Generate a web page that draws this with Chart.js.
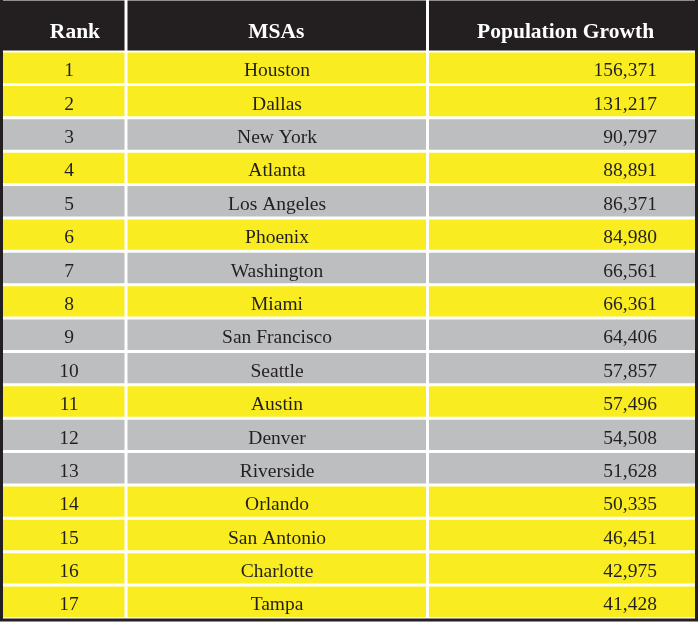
<!DOCTYPE html>
<html>
<head>
<meta charset="utf-8">
<script src="https://cdn.jsdelivr.net/npm/chart.js@4/dist/chart.umd.min.js"></script>
<style>
    html, body { margin: 0; padding: 0; background: #fff; }
    #wrap { width: 698px; height: 622px; }
</style>
</head>
<body>
<div id="wrap"><canvas id="table"></canvas></div>
<script>
// table values
const headers = ['Rank', 'MSAs', 'Population Growth'];
const ranks = [1, 2, 3, 4, 5, 6, 7, 8, 9, 10, 11, 12, 13, 14, 15, 16, 17];
const msas = ['Houston', 'Dallas', 'New York', 'Atlanta', 'Los Angeles', 'Phoenix', 'Washington', 'Miami',
    'San Francisco', 'Seattle', 'Austin', 'Denver', 'Riverside', 'Orlando', 'San Antonio', 'Charlotte', 'Tampa'];
const growth = [156371, 131217, 90797, 88891, 86371, 84980, 66561, 66361, 64406, 57857, 57496, 54508, 51628,
    50335, 46451, 42975, 41428];
// which rows are shaded yellow (y) or grey (g)
const shade = ['y', 'y', 'g', 'y', 'g', 'y', 'g', 'y', 'g', 'g', 'y', 'g', 'g', 'y', 'y', 'y', 'y'];

const DARK = '#231f20';
const palette = { y: '#f9ed21', g: '#bcbec0' };

// column extents on the x scale (0..100)
const columns = [[0, 17.56], [17.99, 61.13], [61.56, 100]];
const headerX = [10.4, 39.5, 81.3];
const bodyX = [9.55, 39.6, 94.5];

const datasets = [];
columns.forEach((col, c) => {
    datasets.push({
        label: 'head-' + c,
        yAxisID: 'yh',
        data: [col],
        backgroundColor: DARK,
        barPercentage: 50 / 51,
        categoryPercentage: 1,
        grouped: false
    });
    datasets.push({
        label: 'body-' + c,
        yAxisID: 'y',
        data: ranks.map(() => col),
        backgroundColor: shade.map(s => palette[s]),
        barPercentage: 0.91,
        categoryPercentage: 1,
        grouped: false
    });
});

const tableText = {
    id: 'tableText',
    afterDatasetsDraw(chart) {
        const { ctx, chartArea, scales } = chart;
        ctx.save();
        // outer frame
        ctx.strokeStyle = DARK;
        ctx.lineWidth = 3;
        ctx.strokeRect(chartArea.left - 1.5, chartArea.top - 1.5,
            chartArea.right - chartArea.left + 3, chartArea.bottom - chartArea.top + 3);

        ctx.textBaseline = 'middle';
        ctx.fillStyle = '#fff';
        ctx.font = 'bold 21.5px "Liberation Serif"';
        ctx.textAlign = 'center';
        const hy = scales.yh.getPixelForValue(0) + 6.5;
        headers.forEach((h, c) => ctx.fillText(h, scales.x.getPixelForValue(headerX[c]), hy));

        ctx.fillStyle = DARK;
        ctx.font = '19.5px "Liberation Serif"';
        ranks.forEach((r, i) => {
            const py = scales.y.getPixelForValue(i) + 3.5;
            ctx.textAlign = 'center';
            ctx.fillText(String(r), scales.x.getPixelForValue(bodyX[0]), py);
            ctx.fillText(msas[i], scales.x.getPixelForValue(bodyX[1]), py);
            ctx.textAlign = 'right';
            ctx.fillText(growth[i].toLocaleString('en-US'), scales.x.getPixelForValue(bodyX[2]), py);
        });
        ctx.restore();
    }
};

new Chart(document.getElementById('table'), {
    type: 'bar',
    data: { labels: msas, datasets: datasets },
    options: {
        indexAxis: 'y',
        responsive: true,
        maintainAspectRatio: false,
        animation: false,
        layout: { padding: { top: 0, left: 3, right: 3, bottom: 3.5 } },
        plugins: { legend: { display: false }, tooltip: { enabled: false } },
        scales: {
            x: { type: 'linear', min: 0, max: 100, display: false },
            y: {
                type: 'category', labels: msas, offset: true, position: 'left',
                stack: 'rows', stackWeight: 567.5, weight: 0, display: false
            },
            yh: {
                type: 'category', labels: ['header'], offset: true, position: 'left',
                stack: 'rows', stackWeight: 51, weight: 1, display: false
            }
        }
    },
    plugins: [tableText]
});
</script>
</body>
</html>
